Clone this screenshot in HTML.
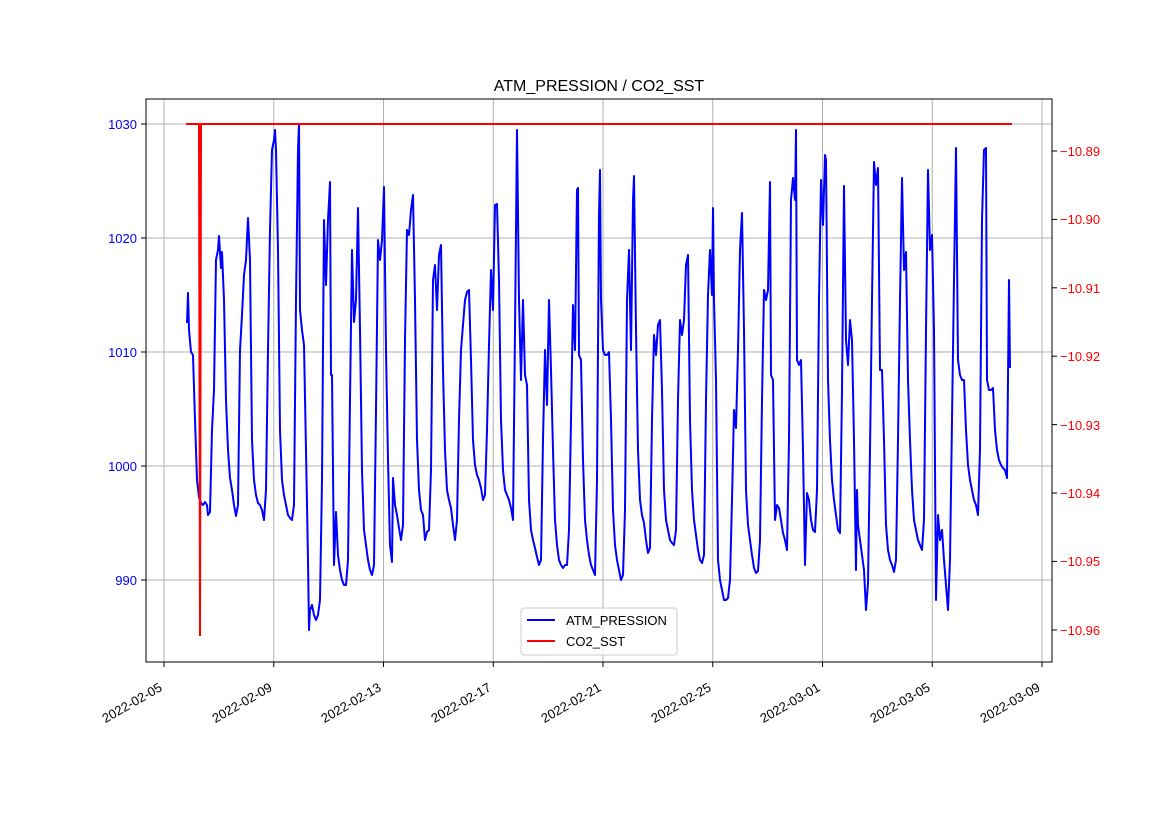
<!DOCTYPE html>
<html><head><meta charset="utf-8"><style>body{margin:0;background:#fff}svg{display:block}text{font-family:"Liberation Sans","DejaVu Sans",sans-serif;font-size:13px}</style></head>
<body>
<svg width="1169" height="827" xmlns="http://www.w3.org/2000/svg">
<rect width="1169" height="827" fill="#fff"/>
<text x="599" y="91" text-anchor="middle" style="font-size:16px">ATM_PRESSION / CO2_SST</text>
<g stroke="#b0b0b0" stroke-width="1">
<line x1="164" y1="99" x2="164" y2="662"/><line x1="273.75" y1="99" x2="273.75" y2="662"/><line x1="383.5" y1="99" x2="383.5" y2="662"/><line x1="493.25" y1="99" x2="493.25" y2="662"/><line x1="603" y1="99" x2="603" y2="662"/><line x1="712.75" y1="99" x2="712.75" y2="662"/><line x1="822.5" y1="99" x2="822.5" y2="662"/><line x1="932.25" y1="99" x2="932.25" y2="662"/><line x1="1042" y1="99" x2="1042" y2="662"/>
<line x1="146" y1="124" x2="1052" y2="124"/><line x1="146" y1="238" x2="1052" y2="238"/><line x1="146" y1="352" x2="1052" y2="352"/><line x1="146" y1="466" x2="1052" y2="466"/><line x1="146" y1="580" x2="1052" y2="580"/>
</g>
<polyline fill="none" stroke="#0000ff" stroke-width="2" stroke-linejoin="round" points="187,323 188,293 189,330 191,352 193,355 195,420 197,480 199,497 201,503 203,505 205,502 207,505 208,515 210,512 212,430 214,390 216,260 218,250 219,236 221,268 222,252 224,300 226,400 228,450 230,478 232,490 234,505 236,516 238,505 240,350 242,315 244,275 246,260 248,218 250,260 252,440 254,480 256,495 258,503 260,505 262,510 264,520 266,490 268,350 270,230 272,150 274,140 275,130 276,150 278,250 280,430 282,480 284,495 286,505 288,515 290,518 292,520 294,505 296,300 298,150 299,124 300,310 302,330 304,345 306,450 308,560 309,630 310,610 312,605 314,615 316,620 318,615 320,600 322,480 324,220 326,285 328,220 330,182 331,375 332,375 334,565 336,512 338,555 340,570 342,580 344,585 346,585 348,560 350,400 352,250 354,322 356,300 358,208 360,330 362,470 364,530 366,545 368,560 370,570 372,575 374,565 376,410 378,240 380,260 382,240 384,187 386,350 388,460 390,545 392,562 393,478 395,505 397,515 399,528 401,540 403,525 405,340 407,230 409,235 411,210 413,195 415,300 417,440 419,490 421,510 423,515 425,540 427,532 429,530 431,470 433,280 435,265 437,310 439,255 441,245 443,370 445,450 447,490 449,500 451,508 453,525 455,540 457,520 459,420 461,350 463,325 465,300 467,292 469,290 471,360 473,440 475,465 477,475 479,480 481,488 483,500 485,495 487,430 489,345 491,270 493,310 495,205 497,204 499,280 501,420 503,470 505,490 507,495 509,500 511,508 513,520 515,330 517,130 519,300 521,380 523,300 525,375 527,385 529,500 531,530 533,540 535,548 537,557 539,565 541,560 543,440 545,350 547,405 549,300 551,370 553,450 555,520 557,545 559,560 561,565 563,568 565,565 567,565 569,530 571,420 573,305 575,350 577,190 578,188 579,355 581,360 583,460 585,520 587,540 589,555 591,565 593,570 595,575 597,480 599,215 600,170 601,300 603,350 605,355 607,355 609,352 611,420 613,510 615,545 617,560 619,570 621,580 623,575 625,510 627,300 629,250 631,350 633,200 634,176 636,330 638,450 640,500 642,515 644,523 646,540 648,553 650,548 652,420 654,335 656,355 658,325 660,320 662,390 664,490 666,520 668,530 670,540 672,543 674,545 676,530 678,400 680,320 682,335 684,320 686,265 688,255 690,420 692,490 694,520 696,535 698,550 700,560 702,563 704,555 706,400 708,295 710,250 712,295 713,208 714,300 716,380 718,560 720,580 722,590 724,600 726,600 728,598 730,580 732,500 734,410 736,428 738,350 740,250 742,213 744,330 746,490 748,525 750,540 752,555 754,568 756,573 758,571 760,540 762,400 764,290 766,300 768,290 770,182 771,375 773,380 775,520 777,505 779,508 781,520 783,533 785,540 787,550 789,440 791,200 793,178 795,200 796,130 797,360 799,365 801,360 803,450 805,565 807,493 809,500 811,520 813,530 815,532 817,490 819,300 821,180 823,225 825,155 826,160 828,380 830,440 832,480 834,500 836,515 838,530 840,533 842,390 844,186 846,340 848,365 850,320 852,340 854,440 856,570 857,490 858,525 860,540 862,555 864,570 866,610 868,583 870,450 872,300 874,162 876,185 878,168 880,370 882,370 884,440 886,525 888,550 890,560 892,565 894,572 896,560 898,440 900,300 902,178 904,270 906,252 908,380 910,440 912,490 914,520 916,530 918,540 920,545 922,550 924,520 926,330 928,170 930,250 932,235 934,330 936,600 938,515 940,540 942,530 944,560 946,585 948,610 950,560 952,420 954,280 956,148 958,360 960,375 962,380 964,380 966,430 968,465 970,480 972,490 974,500 976,505 978,515 980,450 982,220 984,150 986,148 987,380 989,390 991,390 993,388 995,430 997,450 999,460 1001,465 1003,468 1005,470 1007,478 1009,280 1010,368"/>
<polyline fill="none" stroke="#ff0000" stroke-width="2" points="186,124 199,124 200,636 201,124 1012,124"/>
<rect x="146" y="99" width="906" height="563" fill="none" stroke="#000" stroke-width="1"/>
<g stroke="#000">
<line x1="164" y1="662" x2="164" y2="667"/><line x1="273.75" y1="662" x2="273.75" y2="667"/><line x1="383.5" y1="662" x2="383.5" y2="667"/><line x1="493.25" y1="662" x2="493.25" y2="667"/><line x1="603" y1="662" x2="603" y2="667"/><line x1="712.75" y1="662" x2="712.75" y2="667"/><line x1="822.5" y1="662" x2="822.5" y2="667"/><line x1="932.25" y1="662" x2="932.25" y2="667"/><line x1="1042" y1="662" x2="1042" y2="667"/>
<line x1="141" y1="124" x2="146" y2="124"/><line x1="141" y1="238" x2="146" y2="238"/><line x1="141" y1="352" x2="146" y2="352"/><line x1="141" y1="466" x2="146" y2="466"/><line x1="141" y1="580" x2="146" y2="580"/>
<line x1="1052" y1="151" x2="1057" y2="151"/><line x1="1052" y1="219.4" x2="1057" y2="219.4"/><line x1="1052" y1="287.8" x2="1057" y2="287.8"/><line x1="1052" y1="356.2" x2="1057" y2="356.2"/><line x1="1052" y1="424.6" x2="1057" y2="424.6"/><line x1="1052" y1="493" x2="1057" y2="493"/><line x1="1052" y1="561.4" x2="1057" y2="561.4"/><line x1="1052" y1="630" x2="1057" y2="630"/>
</g>
<g fill="#0000ff" text-anchor="end">
<text x="137" y="129">1030</text><text x="137" y="243">1020</text><text x="137" y="357">1010</text><text x="137" y="471">1000</text><text x="137" y="585">990</text>
</g>
<g fill="#ff0000">
<text x="1060" y="156">−10.89</text><text x="1060" y="224">−10.90</text><text x="1060" y="293">−10.91</text><text x="1060" y="361">−10.92</text><text x="1060" y="430">−10.93</text><text x="1060" y="498">−10.94</text><text x="1060" y="566">−10.95</text><text x="1060" y="635">−10.96</text>
</g>
<g text-anchor="end">
<text transform="translate(163,690) rotate(-30)">2022-02-05</text>
<text transform="translate(273,690) rotate(-30)">2022-02-09</text>
<text transform="translate(382,690) rotate(-30)">2022-02-13</text>
<text transform="translate(492,690) rotate(-30)">2022-02-17</text>
<text transform="translate(602,690) rotate(-30)">2022-02-21</text>
<text transform="translate(712,690) rotate(-30)">2022-02-25</text>
<text transform="translate(821,690) rotate(-30)">2022-03-01</text>
<text transform="translate(931,690) rotate(-30)">2022-03-05</text>
<text transform="translate(1041,690) rotate(-30)">2022-03-09</text>
</g>
<rect x="521" y="608" width="156" height="47" rx="3" fill="#fff" fill-opacity="0.8" stroke="#ccc"/>
<line x1="527" y1="620" x2="555" y2="620" stroke="#0000ff" stroke-width="2"/>
<text x="566" y="625">ATM_PRESSION</text>
<line x1="527" y1="641" x2="555" y2="641" stroke="#ff0000" stroke-width="2"/>
<text x="566" y="646">CO2_SST</text>
</svg>
</body></html>
